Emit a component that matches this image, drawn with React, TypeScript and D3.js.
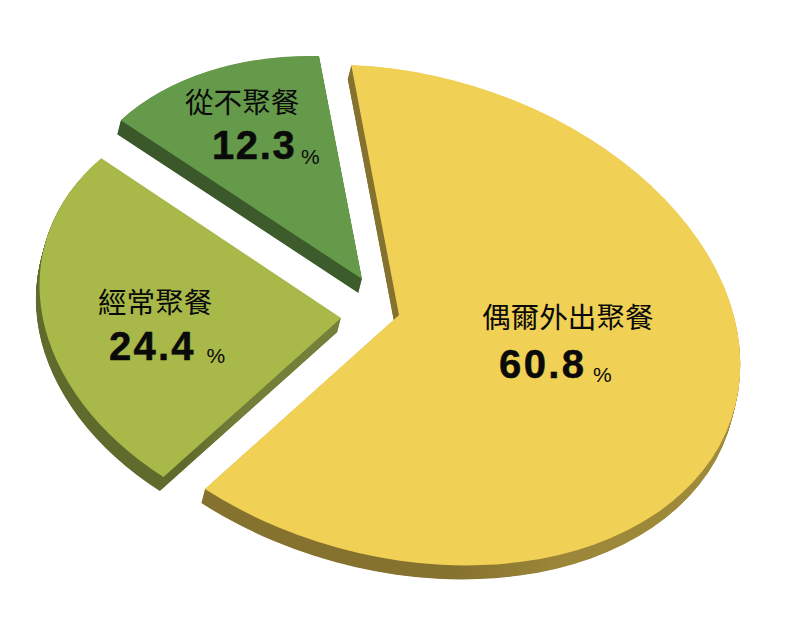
import * as d3 from "d3";

const categories = ["偶爾外出聚餐", "經常聚餐", "從不聚餐"];
const percents = [60.8, 24.4, 12.3];

const width = 792;
const height = 625;

// each slice is pulled out of the pie by hand, so apex and shape differ
const apexes = [
  [399, 315],
  [341, 318],
  [362, 279],
];
// tilt per slice: maps the flat unit circle on to that slice's ellipse on the page
const tilts = [
  "matrix(338 14.3 47.7 250 0 0)",
  "matrix(299.5 7.1 34.7 223 0 0)",
  "matrix(293.6 5.6 43 223 0 0)",
];
const tops = ["#f1d155", "#a9b949", "#659a4b"];
const sideLeft = ["#86722f", "#5f6b2c", "#3a5829"];
const sideRight = ["#a08b3b", "#75813a", "#3d5c2b"];

// the wedges in the drawing do not quite follow the numbers (degrees off at each slice end)
const endNudge = [-1.8, -0.6, 0];

// label anchors: name, number, percent sign (x, baseline)
const nameAt = [[482, 328], [98, 313], [185, 113]];
const valueAt = [[499, 378], [109, 360], [212, 159]];
const signAt = [[593, 382], [206.5, 363], [301, 164]];
const valueSpacing = [2.4, 2.2, 1.6];

const depth: [number, number] = [-3.6, 14];

const rad = (deg: number) => (deg * Math.PI) / 180;

const slices = d3.pie<number>().sort(null)(percents);

const arc = d3.arc();

const sideSteps = d3.range(28, 0, -1).map((k) => k / 28);

export default function App() {
  return (
    <svg
      width={width}
      height={height}
      style={{ position: "absolute", left: 0, top: 0, background: "#fff" }}
    >
      <defs>
        {slices.map((_, i) => (
          <linearGradient key={i} id={`side-${i}`} x1="0" x2="1" y1="0" y2="0">
            <stop offset="0.42" stopColor={sideLeft[i]} />
            <stop offset="0.62" stopColor={d3.interpolateRgb(sideLeft[i], sideRight[i])(0.85)} />
            <stop offset="1" stopColor={sideRight[i]} />
          </linearGradient>
        ))}
      </defs>

      {slices.map((s, i) => {
        const d = arc({
          innerRadius: 0,
          outerRadius: 1,
          startAngle: s.startAngle + (i > 0 ? rad(endNudge[i - 1]) : 0),
          endAngle: s.endAngle + rad(endNudge[i]),
        }) as string;
        const [ax, ay] = apexes[i];
        return (
          <g key={categories[i]}>
            {sideSteps.map((k) => (
              <path
                key={k}
                d={d}
                fill={`url(#side-${i})`}
                transform={`translate(${ax + depth[0] * k},${ay + depth[1] * k}) ${tilts[i]}`}
              />
            ))}
            <path d={d} fill={tops[i]} transform={`translate(${ax},${ay}) ${tilts[i]}`} />
          </g>
        );
      })}

      {categories.map((name, i) => (
        <g key={name} fill="#0a0a0a">
          <text
            x={nameAt[i][0]}
            y={nameAt[i][1]}
            fontFamily="'Noto Sans CJK TC', sans-serif"
            fontSize={28.6}
          >
            {name}
          </text>
          <text
            x={valueAt[i][0]}
            y={valueAt[i][1]}
            fontFamily="'Liberation Sans', Arial, sans-serif"
            fontWeight="bold"
            fontSize={40}
            letterSpacing={valueSpacing[i]}
            stroke="#0a0a0a"
            strokeWidth={0.5}
          >
            {percents[i].toFixed(1)}
          </text>
          <text
            x={signAt[i][0]}
            y={signAt[i][1]}
            fontFamily="'Liberation Sans', Arial, sans-serif"
            fontSize={21}
          >
            %
          </text>
        </g>
      ))}
    </svg>
  );
}
